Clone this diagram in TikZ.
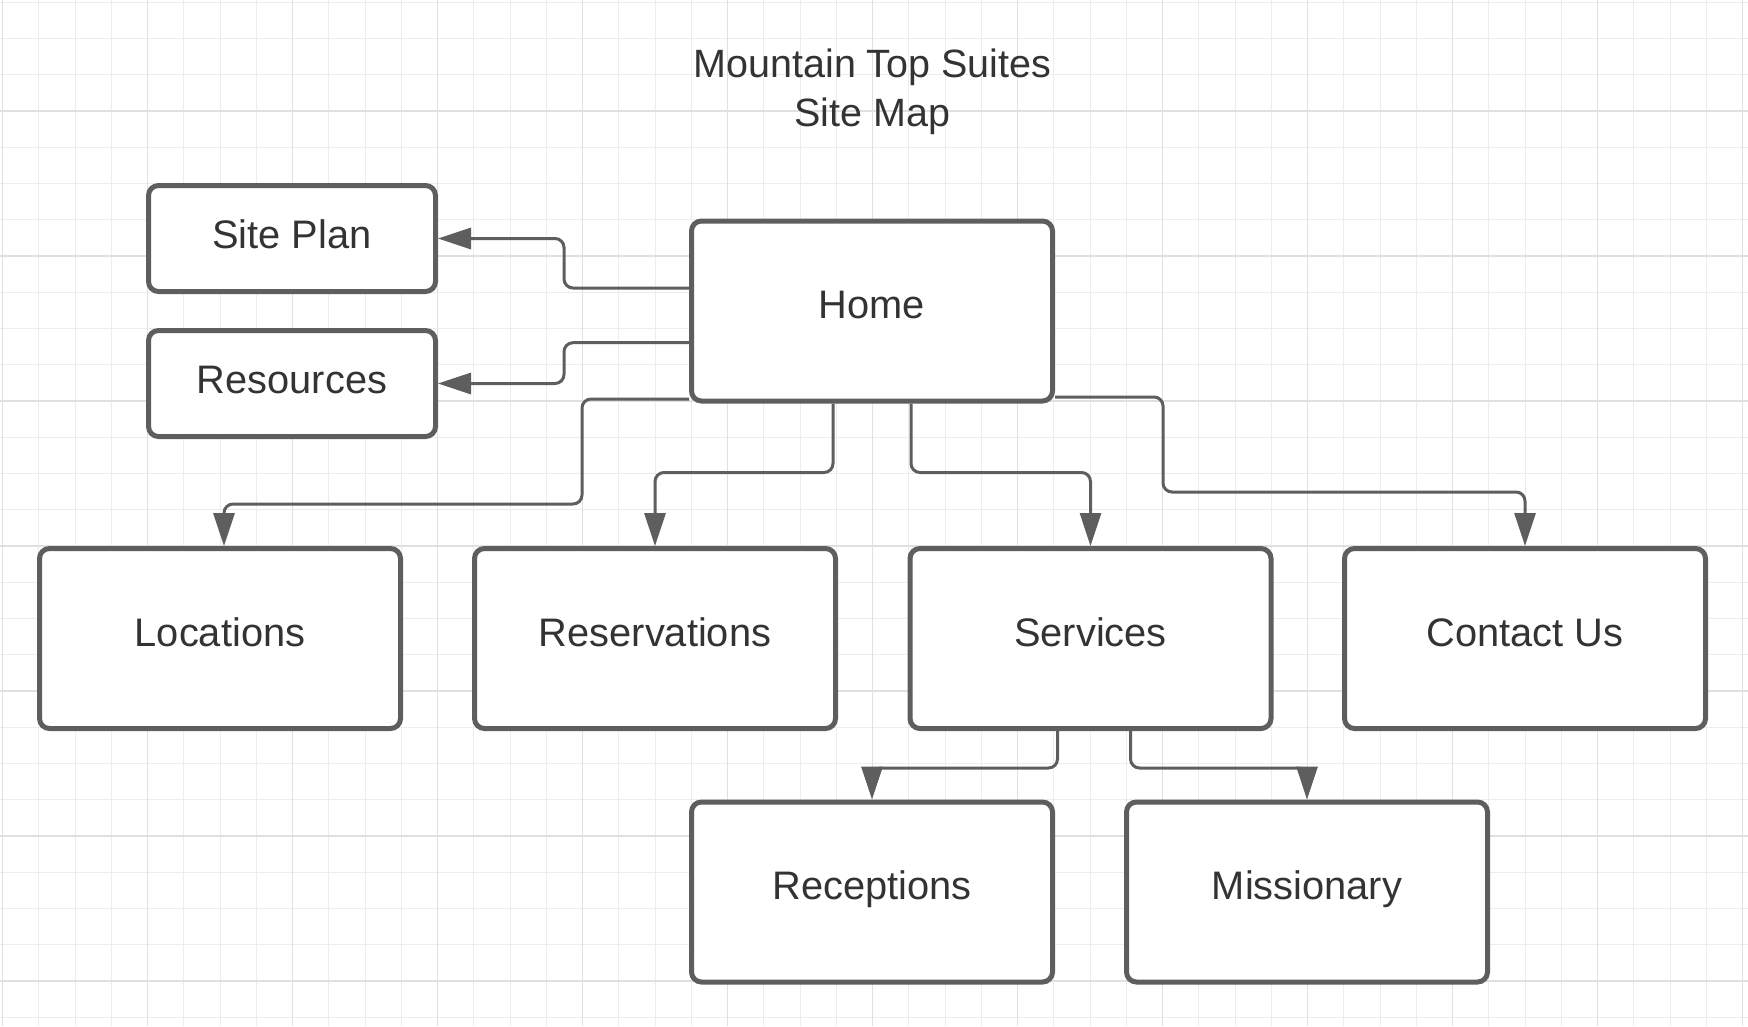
\documentclass[tikz,border=0pt]{standalone}
\usepackage{fontspec}
\setmainfont{Liberation Sans}
\usetikzlibrary{arrows.meta,calc}
\definecolor{linegray}{HTML}{5E5E5E}
\definecolor{textgray}{HTML}{333333}
\definecolor{gridminorc}{HTML}{EDEDED}
\definecolor{gridmajorc}{HTML}{E0E0E0}
\tikzset{
  gridminor/.style={draw=gridminorc, line width=1pt},
  gridmajor/.style={draw=gridmajorc, line width=1.2pt},
  boxstyle/.style={draw=linegray, line width=5pt, rounded corners=10pt, fill=white,
    text=textgray, font=\fontsize{39.8}{47}\selectfont, text height=25pt, text depth=10pt,
    inner sep=0pt},
  bigbox/.style={boxstyle, minimum width=361pt, minimum height=180pt},
  smallbox/.style={boxstyle, minimum width=287pt, minimum height=106pt, text height=27pt, text depth=8pt},
  titletext/.style={text=textgray, font=\fontsize{39.5}{47}\selectfont, inner sep=0pt, anchor=base},
  conn/.style={draw=linegray, line width=3pt, rounded corners=9pt,
    -{Triangle[length=33pt,width=21pt]}}
}
\begin{document}
\begin{tikzpicture}[x=1pt,y=-1pt]
\useasboundingbox (0,0) rectangle (1748,1026);
\fill[white] (0,0) rectangle (1748,1026);
% grid
\foreach \i in {0,...,48} \draw[gridminor] ({2.7+36.25*\i},0) -- ({2.7+36.25*\i},1026);
\foreach \j in {0,...,28} \draw[gridminor] (0,{2.25+36.25*\j}) -- (1748,{2.25+36.25*\j});
\foreach \i in {0,...,12} \draw[gridmajor] ({2.7+145*\i},0) -- ({2.7+145*\i},1026);
\foreach \j in {0,...,7} \draw[gridmajor] (0,{-34+145*\j}) -- (1748,{-34+145*\j});
% title
\node[titletext] (title1) at (872.5,77.3) {Mountain Top Suites};
\node[titletext] (title2) at (872.5,126) {Site Map};
% boxes
\node[smallbox] (siteplan) at (292,238.5) {Site Plan};
\node[smallbox] (resources) at (292,383.5) {Resources};
\node[bigbox] (home) at (872,311) {Home};
\node[bigbox] (locations) at (220,638.5) {Locations};
\node[bigbox] (reservations) at (655,638.5) {Reservations};
\node[bigbox] (services) at (1090.5,638.5) {Services};
\node[bigbox] (contact) at (1525,638.5) {Contact Us};
\node[bigbox] (receptions) at (872,892) {Receptions};
\node[bigbox] (missionary) at (1307,892) {Missionary};
% connectors
\draw[conn] ($(home.west)+(0,-23)$) -- ++(-125,0) |- (siteplan.east);
\draw[conn] ($(home.west)+(0,31.7)$) -- ++(-125,0) |- (resources.east);
\draw[conn] ($(home.west)+(0,88)$) -- ++(-107,0) -- ++(0,105) -| ($(locations.north)+(4,0)$);
\draw[conn] ($(home.south)+(-39,0)$) -- ++(0,69) -| (reservations.north);
\draw[conn] ($(home.south)+(39,0)$) -- ++(0,69) -| (services.north);
\draw[conn] ($(home.east)+(0,86)$) -- ++(108,0) -- ++(0,95) -| (contact.north);
\draw[conn] ($(services.south)+(-33,0)$) -- ++(0,37) -| (receptions.north);
\draw[conn] ($(services.south)+(40,0)$) -- ++(0,37) -| (missionary.north);
\end{tikzpicture}
\end{document}
